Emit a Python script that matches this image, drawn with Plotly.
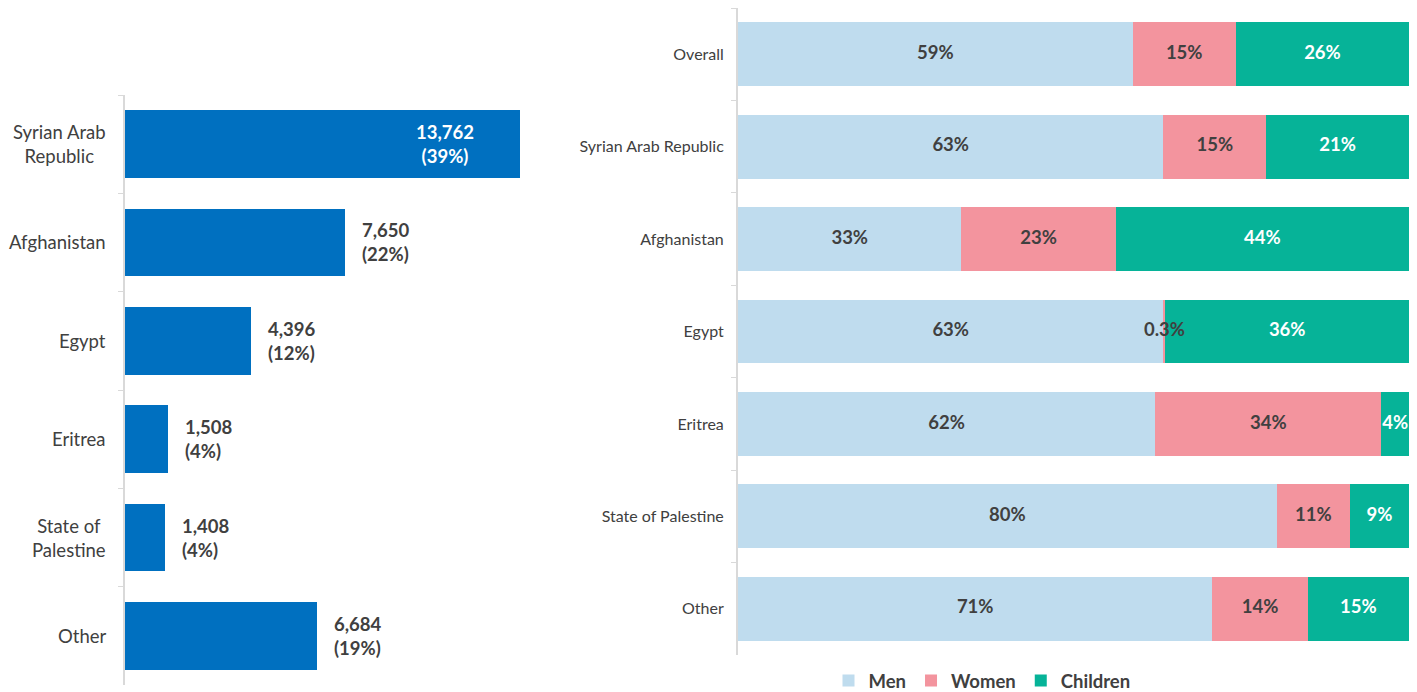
import plotly.graph_objects as go

# Left chart data
countries_left = ["Syrian Arab Republic", "Afghanistan", "Egypt", "Eritrea", "State of Palestine", "Other"]
left_tick_text = ["Syrian Arab<br>Republic", "Afghanistan", "Egypt", "Eritrea", "State of<br>Palestine", "Other"]
counts = [13762, 7650, 4396, 1508, 1408, 6684]
shares = [39, 22, 12, 4, 4, 19]

# Right chart data
countries_right = ["Overall", "Syrian Arab Republic", "Afghanistan", "Egypt", "Eritrea", "State of Palestine", "Other"]
men = [58.8, 63.4, 33.3, 63.4, 62.2, 80.3, 70.7]
women = [15.4, 15.3, 23.0, 0.3, 33.7, 10.9, 14.2]
children = [25.8, 21.3, 43.7, 36.3, 4.1, 8.8, 15.1]

# page body has an 8px margin; figure origin sits at (8, 8)
OX, OY = 8, 8
W, H = 1409, 684
FONT = "Lato"
GRAY = "#404040"
AXIS = "#d9d9d9"

def fx(px):
    return (px - OX) / W

def fy(py):
    return (H - (py - OY)) / H

def pct_label(v):
    return f"{v:.1f}%" if v < 1 else f"{v:.0f}%"

fig = go.Figure()

fig.add_trace(go.Bar(
    y=countries_left, x=counts, orientation="h",
    marker=dict(color="#0070C0", line=dict(width=0)),
    xaxis="x", yaxis="y", showlegend=False, hoverinfo="skip",
))

series = [("Men", men, "#BFDCEE", GRAY), ("Women", women, "#F3949E", GRAY), ("Children", children, "#06B398", "white")]
base = [0.0] * len(countries_right)
text_traces = []
for name, vals, col, tcol in series:
    fig.add_trace(go.Bar(
        name=name, y=countries_right, x=vals, orientation="h",
        marker=dict(color=col, line=dict(width=0)),
        xaxis="x2", yaxis="y2", hoverinfo="skip",
    ))
    mids = [b + v / 2 for b, v in zip(base, vals)]
    text_traces.append(go.Scatter(
        x=mids, y=countries_right, mode="text", text=[pct_label(v) for v in vals],
        textposition="middle center", cliponaxis=False,
        textfont=dict(family=FONT, size=18.5, color=tcol, weight="bold"),
        xaxis="x2", yaxis="y2", showlegend=False, hoverinfo="skip",
    ))
    base = [b + v for b, v in zip(base, vals)]
for t in text_traces:
    fig.add_trace(t)

annotations = []
for i, (c, v, s) in enumerate(zip(countries_left, counts, shares)):
    label = f"{v:,}<br>({s}%)"
    if i == 0:
        annotations.append(dict(x=v, y=c, xref="x", yref="y", text=label, showarrow=False,
                                xanchor="right", xshift=-44, align="center",
                                font=dict(family=FONT, size=18.5, color="white", weight="bold")))
    else:
        annotations.append(dict(x=v, y=c, xref="x", yref="y", text=label, showarrow=False,
                                xanchor="left", xshift=15, align="left",
                                font=dict(family=FONT, size=18.5, color=GRAY, weight="bold")))
for c, t in zip(countries_left, left_tick_text):
    annotations.append(dict(x=fx(108), y=c, xref="paper", yref="y", text=t, showarrow=False,
                            xanchor="right", align="center",
                            font=dict(family=FONT, size=18.5, color=GRAY)))

fig.update_layout(
    width=W, height=H,
    margin=dict(l=0, r=0, t=0, b=0, autoexpand=False),
    paper_bgcolor="white", plot_bgcolor="white",
    barmode="stack", bargap=0.31,
    font=dict(family=FONT, color=GRAY),
    xaxis=dict(domain=[fx(125), fx(540)], range=[0, 14460], visible=False, fixedrange=True),
    yaxis=dict(domain=[fy(685), fy(95)], autorange="reversed", type="category",
               showline=True, linecolor=AXIS, linewidth=2, ticks="outside", tickson="boundaries",
               ticklen=5, tickcolor=AXIS, showticklabels=False, showgrid=False, zeroline=False),
    xaxis2=dict(domain=[fx(738), fx(1409)], range=[0, 100], visible=False, fixedrange=True, anchor="y2"),
    yaxis2=dict(domain=[fy(655), fy(8)], autorange="reversed", type="category",
                anchor="x2",
                showline=True, linecolor=AXIS, linewidth=2, ticks="outside", tickson="boundaries",
                ticklen=5, tickcolor=AXIS, showgrid=False, zeroline=False,
                tickfont=dict(family=FONT, size=16, color=GRAY), ticklabelstandoff=9),
    legend=dict(orientation="h", x=fx(982), xanchor="center", y=fy(681), yanchor="middle",
                xref="container", yref="container",
                font=dict(family=FONT, size=18.5, color=GRAY, weight="bold"),
                itemwidth=30, traceorder="normal", bgcolor="rgba(0,0,0,0)"),
    annotations=annotations,
)

fig.write_html("out.html", config={"displayModeBar": False})
